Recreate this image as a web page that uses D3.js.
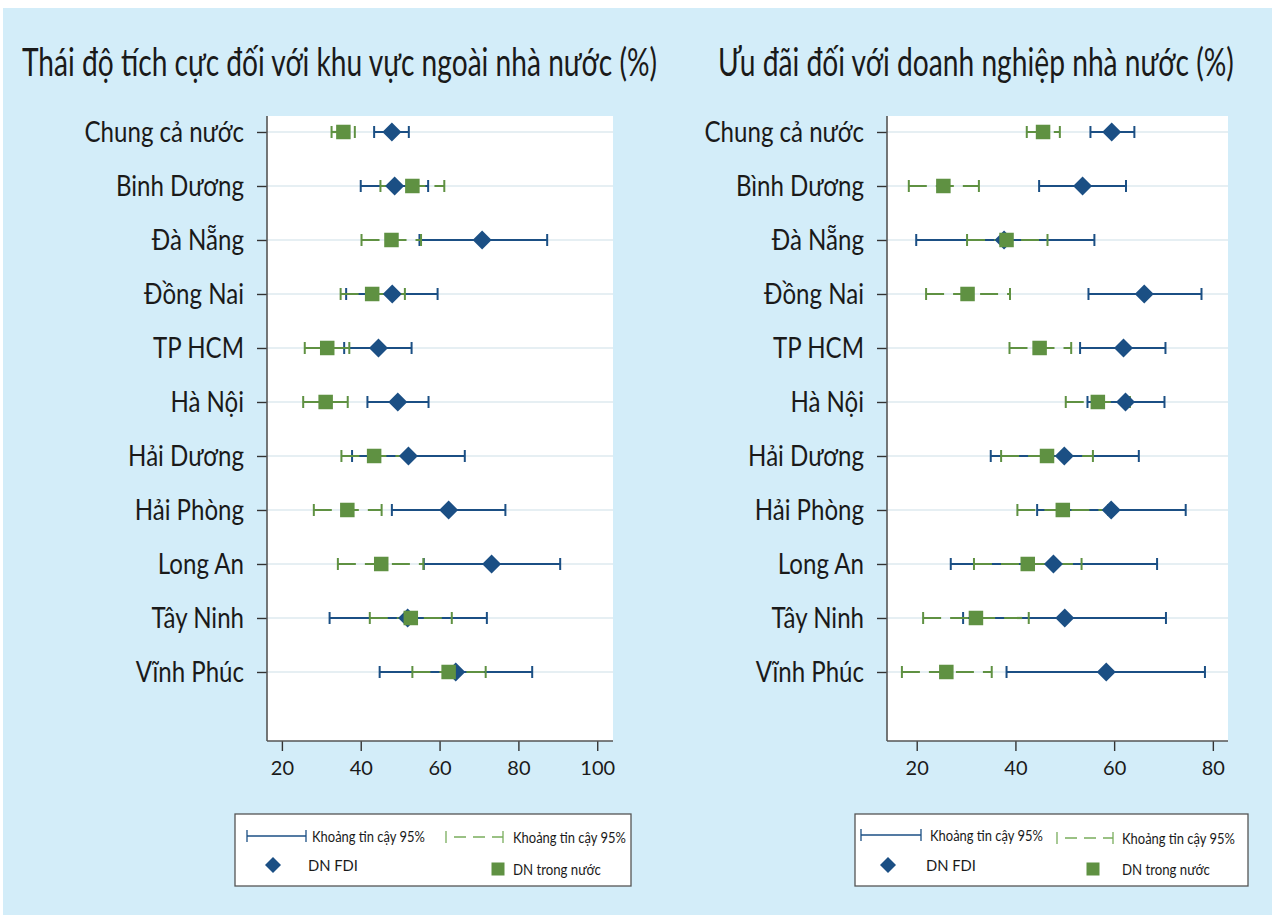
<!DOCTYPE html>
<html>
<head>
<meta charset="utf-8">
<script src="https://cdn.jsdelivr.net/npm/d3@7"></script>
<style>
  html, body { margin: 0; padding: 0; background: #ffffff; }
  svg { display: block; }
  text { font-family: "Lato", "DejaVu Sans", sans-serif; fill: #1a1a1a; }
</style>
</head>
<body>
<svg id="chart" width="1272" height="915"></svg>
<script>
// Province labels (row order, top to bottom)
const labelsLeft = ["Chung cả nước", "Binh Dương", "Đà Nẵng", "Đồng Nai", "TP HCM", "Hà Nội",
                    "Hải Dương", "Hải Phòng", "Long An", "Tây Ninh", "Vĩnh Phúc"];
const labelsRight = ["Chung cả nước", "Bình Dương", "Đà Nẵng", "Đồng Nai", "TP HCM", "Hà Nội",
                     "Hải Dương", "Hải Phòng", "Long An", "Tây Ninh", "Vĩnh Phúc"];

// Panel 1: positive attitude towards the non-state sector (%)
const attFdi     = [47.9, 48.6, 70.8, 48.0, 44.5, 49.4, 52.1, 62.3, 73.2, 51.9, 64.1];
const attFdiLo   = [43.4, 40.0, 54.9, 36.3, 35.8, 41.7, 37.8, 47.9, 56.0, 32.1, 44.8];
const attFdiHi   = [52.2, 57.1, 87.3, 59.5, 52.9, 57.2, 66.4, 76.7, 90.6, 72.0, 83.5];
const attDom     = [35.6, 53.1, 47.8, 42.9, 31.5, 31.1, 43.4, 36.6, 45.2, 52.7, 62.3];
const attDomLo   = [32.6, 45.0, 40.2, 34.9, 25.8, 25.4, 35.1, 28.1, 34.2, 42.3, 53.1];
const attDomHi   = [38.5, 61.2, 55.3, 51.2, 37.1, 36.7, 51.8, 45.3, 55.9, 63.1, 71.7];

// Panel 2: preferential treatment of state-owned enterprises (%)
const prefFdi    = [59.5, 53.6, 37.7, 66.1, 61.9, 62.3, 49.9, 59.4, 47.7, 50.0, 58.4];
const prefFdiLo  = [55.2, 44.8, 19.9, 54.8, 53.1, 54.6, 35.0, 44.4, 26.9, 29.4, 38.2];
const prefFdiHi  = [64.1, 62.4, 56.0, 77.7, 70.4, 70.2, 65.0, 74.5, 68.7, 70.5, 78.4];
const prefDom    = [45.6, 25.4, 38.2, 30.3, 44.9, 56.7, 46.4, 49.6, 42.5, 32.0, 26.0];
const prefDomLo  = [42.3, 18.4, 30.2, 21.9, 38.8, 50.2, 37.1, 40.4, 31.6, 21.3, 17.0];
const prefDomHi  = [49.0, 32.6, 46.5, 38.9, 51.3, 63.2, 55.7, 58.8, 53.4, 42.7, 35.2];

const ticksLeft  = [20, 40, 60, 80, 100];
const ticksRight = [20, 40, 60, 80];

const titleLeft  = "Thái độ tích cực đối với khu vực ngoài nhà nước (%)";
const titleRight = "Ưu đãi đối với doanh nghiệp nhà nước (%)";
const legendCi   = "Khoảng tin cậy 95%";
const legendFdi  = "DN FDI";
const legendDom  = "DN trong nước";

const BLUE = "#1b4f84";
const GREEN = "#5f9142";
const GREEN_LIGHT = "#79ad5c";
const BG = "#d3edf9";

const svg = d3.select("#chart");

// Places a text at (x, y) and squeezes it horizontally so that it spans `width` pixels.
function fitText(parent, str, x, y, size, width) {
  const t = parent.append("text").attr("x", 0).attr("y", 0).attr("font-size", size).text(str);
  const natural = t.node().getComputedTextLength();
  const s = width / natural;
  t.attr("transform", `translate(${x},${y}) scale(${s},1)`);
  return t;
}

// page background: white margin strip with light-blue panel
svg.append("rect").attr("x", 0).attr("y", 0).attr("width", 1272).attr("height", 915).attr("fill", "#ffffff");
svg.append("rect").attr("x", 3).attr("y", 8).attr("width", 1269).attr("height", 907).attr("fill", BG);

function drawPanel(cfg) {
  const g = svg.append("g");
  const x = d3.scaleLinear().domain(cfg.xDomain).range([cfg.left, cfg.right]);
  const y = d3.scaleLinear().domain([-0.296, 11.278]).range([116, 741]);
  const idx = d3.range(cfg.labels.length);

  // plot region
  g.append("rect").attr("x", cfg.left).attr("y", 116)
    .attr("width", cfg.right - cfg.left).attr("height", 741 - 116).attr("fill", "#ffffff");

  // horizontal grid lines
  g.selectAll(".grid").data(idx).join("line")
    .attr("x1", cfg.left).attr("x2", cfg.right)
    .attr("y1", i => y(i)).attr("y2", i => y(i))
    .attr("stroke", "#e6eff3").attr("stroke-width", 2);

  // y axis with slightly condensed province names
  const yAxis = d3.axisLeft(y).tickValues(idx).tickFormat(i => cfg.labels[i])
    .tickSize(10).tickPadding(13);
  const ya = g.append("g").attr("transform", `translate(${cfg.left},0)`).call(yAxis);
  ya.select(".domain").remove();
  ya.selectAll(".tick line").attr("stroke", "#333").attr("stroke-width", 1.4);
  ya.selectAll(".tick text").attr("font-size", 28).attr("fill", "#1a1a1a")
    .attr("font-family", "Lato, sans-serif").attr("dy", "0.34em")
    .attr("x", 0).attr("transform", "translate(-23,0) scale(0.86,1)");
  g.append("line").attr("x1", cfg.left).attr("x2", cfg.left).attr("y1", 116).attr("y2", 741)
    .attr("stroke", "#555").attr("stroke-width", 1.6);

  // x axis
  const xAxis = d3.axisBottom(x).tickValues(cfg.ticks).tickSize(10).tickPadding(10);
  const xa = g.append("g").attr("transform", "translate(0,741)").call(xAxis);
  xa.select(".domain").remove();
  xa.selectAll(".tick line").attr("stroke", "#333").attr("stroke-width", 1.4);
  xa.selectAll(".tick text").attr("font-size", 20).attr("fill", "#1a1a1a")
    .attr("font-family", "Lato, sans-serif");
  g.append("line").attr("x1", cfg.left).attr("x2", cfg.right).attr("y1", 741).attr("y2", 741)
    .attr("stroke", "#555").attr("stroke-width", 1.6);

  const capH = 6;

  // FDI confidence intervals (solid blue)
  g.selectAll(".ciF").data(idx).join("line")
    .attr("x1", i => x(cfg.fdiLo[i])).attr("x2", i => x(cfg.fdiHi[i]))
    .attr("y1", i => y(i)).attr("y2", i => y(i))
    .attr("stroke", BLUE).attr("stroke-width", 2.2);
  ["fdiLo", "fdiHi"].forEach(k => {
    g.selectAll(".capF" + k).data(idx).join("line")
      .attr("x1", i => x(cfg[k][i])).attr("x2", i => x(cfg[k][i]))
      .attr("y1", i => y(i) - capH).attr("y2", i => y(i) + capH)
      .attr("stroke", BLUE).attr("stroke-width", 2);
  });

  // domestic confidence intervals (dashed green)
  g.selectAll(".ciD").data(idx).join("line")
    .attr("x1", i => x(cfg.domLo[i])).attr("x2", i => x(cfg.domHi[i]))
    .attr("y1", i => y(i)).attr("y2", i => y(i))
    .attr("stroke", GREEN).attr("stroke-width", 2.2).attr("stroke-dasharray", "18,9");
  ["domLo", "domHi"].forEach(k => {
    g.selectAll(".capD" + k).data(idx).join("line")
      .attr("x1", i => x(cfg[k][i])).attr("x2", i => x(cfg[k][i]))
      .attr("y1", i => y(i) - capH).attr("y2", i => y(i) + capH)
      .attr("stroke", GREEN).attr("stroke-width", 2);
  });

  // FDI point estimates (diamonds)
  const dr = 9.5;
  g.selectAll(".dia").data(idx).join("path")
    .attr("d", i => {
      const cx = x(cfg.fdi[i]), cy = y(i);
      return `M${cx},${cy - dr}L${cx + dr},${cy}L${cx},${cy + dr}L${cx - dr},${cy}Z`;
    })
    .attr("fill", BLUE);

  // domestic point estimates (squares)
  const sq = 14.5;
  g.selectAll(".sq").data(idx).join("rect")
    .attr("x", i => x(cfg.dom[i]) - sq / 2).attr("y", i => y(i) - sq / 2)
    .attr("width", sq).attr("height", sq).attr("fill", GREEN);

  // title
  fitText(svg, cfg.title, cfg.titleX, 76, 39, cfg.titleW);

  // legend
  const L = cfg.legend;
  const lg = svg.append("g");
  lg.append("rect").attr("x", L.x0).attr("y", 814).attr("width", L.x1 - L.x0).attr("height", 72)
    .attr("fill", "#ffffff").attr("stroke", "#555").attr("stroke-width", 1.3);
  // blue CI key
  lg.append("line").attr("x1", L.bl0).attr("x2", L.bl1).attr("y1", L.by).attr("y2", L.by)
    .attr("stroke", BLUE).attr("stroke-width", 1.3);
  [L.bl0, L.bl1].forEach(v => lg.append("line").attr("x1", v).attr("x2", v)
    .attr("y1", L.by - 6).attr("y2", L.by + 6).attr("stroke", BLUE).attr("stroke-width", 1.3));
  fitText(lg, legendCi, L.bt, L.by + 6, 16, 113);
  // green CI key
  lg.append("line").attr("x1", L.gl0).attr("x2", L.gl1).attr("y1", L.gy).attr("y2", L.gy)
    .attr("stroke", GREEN_LIGHT).attr("stroke-width", 1.3).attr("stroke-dasharray", "0,8,12,7,12,7,12,100");
  [L.gl0, L.gl1].forEach(v => lg.append("line").attr("x1", v).attr("x2", v)
    .attr("y1", L.gy - 6).attr("y2", L.gy + 6).attr("stroke", GREEN_LIGHT).attr("stroke-width", 1.3));
  fitText(lg, legendCi, L.gt, L.gy + 6, 16, 113);
  // diamond key
  const kd = 8;
  lg.append("path").attr("d", `M${L.dx},${865 - kd}L${L.dx + kd},865L${L.dx},${865 + kd}L${L.dx - kd},865Z`)
    .attr("fill", BLUE);
  fitText(lg, legendFdi, L.bt - 4, 871, 16, 50);
  // square key
  lg.append("rect").attr("x", L.sx - 6.5).attr("y", 869 - 6.5).attr("width", 13).attr("height", 13)
    .attr("fill", GREEN);
  fitText(lg, legendDom, L.gt, 875, 16, 88);
}

drawPanel({
  labels: labelsLeft, left: 267, right: 613, xDomain: [16.22, 104.0], ticks: ticksLeft,
  fdi: attFdi, fdiLo: attFdiLo, fdiHi: attFdiHi, dom: attDom, domLo: attDomLo, domHi: attDomHi,
  title: titleLeft, titleX: 22, titleW: 635,
  legend: { x0: 235, x1: 631, bl0: 247, bl1: 306, by: 836, bt: 312,
            gl0: 446, gl1: 503, gy: 837, gt: 513, dx: 273, sx: 498 }
});

drawPanel({
  labels: labelsRight, left: 887, right: 1228, xDomain: [13.98, 83.07], ticks: ticksRight,
  fdi: prefFdi, fdiLo: prefFdiLo, fdiHi: prefFdiHi, dom: prefDom, domLo: prefDomLo, domHi: prefDomHi,
  title: titleRight, titleX: 718, titleW: 516,
  legend: { x0: 855, x1: 1248, bl0: 861, bl1: 921, by: 835, bt: 930,
            gl0: 1057, gl1: 1113, gy: 838, gt: 1122, dx: 888, sx: 1093 }
});
</script>
</body>
</html>
